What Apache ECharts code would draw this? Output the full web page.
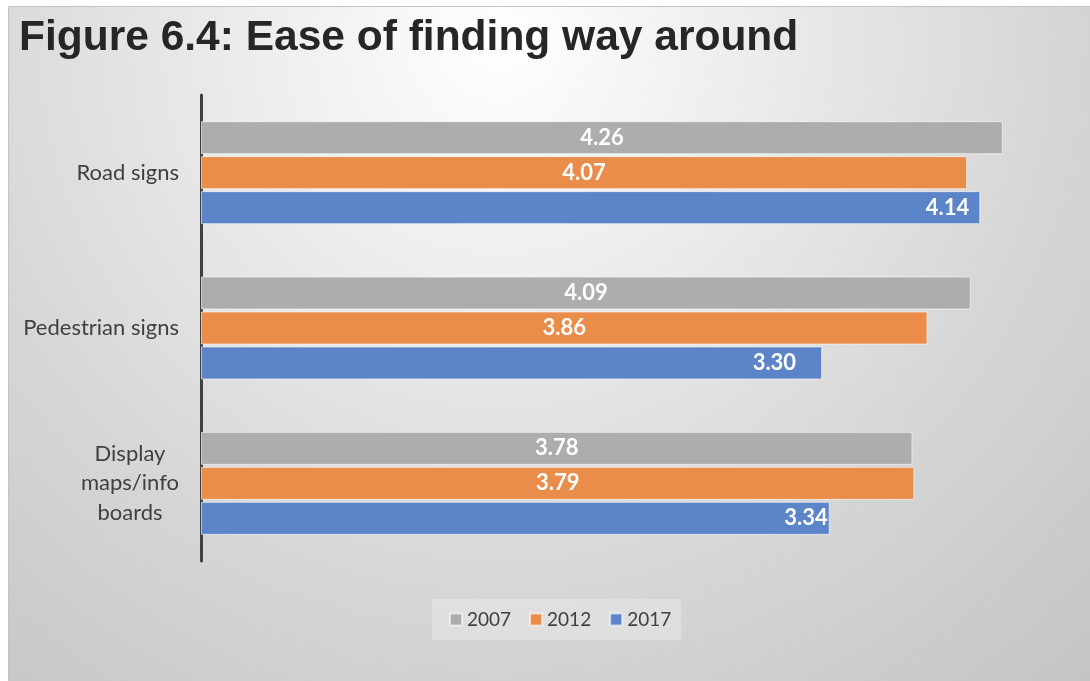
<!DOCTYPE html>
<html>
<head>
<meta charset="utf-8">
<script src="https://cdn.jsdelivr.net/npm/echarts@6/dist/echarts.min.js"></script>
<style>
  html, body { margin: 0; padding: 0; background: #ffffff; }
  #chart { width: 1090px; height: 681px; }
</style>
</head>
<body>
<div id="chart"></div>
<script>
// Wayfinding ratings by survey year
const categories = ['Road signs', 'Pedestrian signs', 'Display\nmaps/info\nboards'];
const years = ['2007', '2012', '2017'];
const values2007 = [4.26, 4.09, 3.78];
const values2012 = [4.07, 3.86, 3.79];
const values2017 = [4.14, 3.30, 3.34];

const seriesValues = [values2007, values2012, values2017];
const seriesColors = ['#adadad', '#ea8c4a', '#5b84c9'];
// gap between the end of each 2017 bar and its label
const lastLabelDistance = [11, 26, 2];

const chart = echarts.init(document.getElementById('chart'), null, { renderer: 'canvas' });

const series = years.map((year, si) => ({
  name: year,
  type: 'bar',
  barWidth: 33,
  barGap: '6%',
  itemStyle: { color: seriesColors[si], borderColor: 'rgba(255,255,255,0.6)', borderWidth: 1 },
  label: {
    show: true,
    position: si === 2 ? 'insideRight' : 'inside',
    color: '#ffffff',
    fontFamily: 'Lato',
    fontWeight: 'bold',
    fontSize: 22,
    formatter: p => p.value.toFixed(2)
  },
  data: seriesValues[si].map((v, i) => si === 2
    ? { value: v, label: { distance: lastLabelDistance[i] } }
    : v)
}));

chart.setOption({
  animation: false,
  graphic: [{
    type: 'rect',
    z: -10,
    shape: { x: 8.5, y: 6.5, width: 1090, height: 680 },
    style: {
      fill: {
        type: 'radial', x: 0.45, y: 0.05, r: 1.33,
        colorStops: [
          { offset: 0, color: '#ffffff' },
          { offset: 0.6, color: '#d7d7d7' },
          { offset: 1, color: '#c2c2c2' }
        ]
      },
      stroke: '#c4c4c4',
      lineWidth: 1
    }
  }],
  title: {
    text: 'Figure 6.4: Ease of finding way around',
    left: 14,
    top: 12,
    textStyle: {
      fontFamily: 'Liberation Sans',
      fontWeight: 'bold',
      fontSize: 42.5,
      color: '#262626'
    }
  },
  legend: {
    data: years,
    left: 432,
    top: 599,
    icon: 'rect',
    itemWidth: 12,
    itemHeight: 12,
    itemGap: 18,
    padding: [11, 10, 11, 17],
    backgroundColor: 'rgba(255,255,255,0.25)',
    textStyle: { fontFamily: 'Lato', fontSize: 19, color: '#404040' }
  },
  grid: { left: 201, right: 42, top: 95, height: 466, containLabel: false },
  xAxis: {
    type: 'value',
    min: 0,
    max: 4.5,
    show: false
  },
  yAxis: {
    type: 'category',
    inverse: true,
    data: categories,
    axisLine: { show: true, lineStyle: { color: '#404040', width: 3 } },
    axisTick: { show: false },
    axisLabel: {
      margin: 22,
      formatter: v => v.split('\n').map(s => '{c|' + s + '}').join('\n'),
      rich: {
        c: { align: 'center', fontFamily: 'Lato', fontSize: 22, color: '#404040', lineHeight: 29.5 }
      }
    }
  },
  series: series
});
</script>
</body>
</html>
